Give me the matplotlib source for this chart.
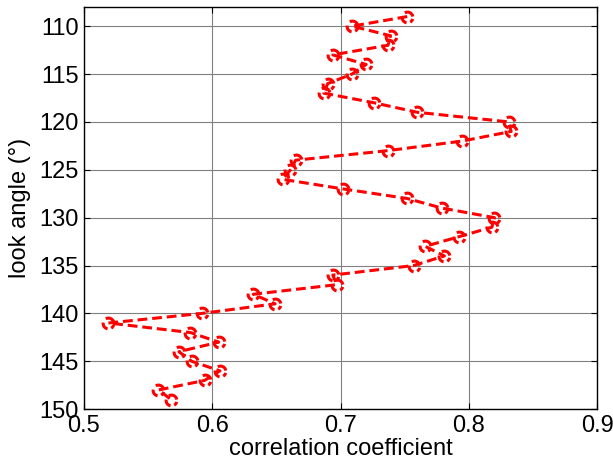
import numpy as np
import matplotlib
matplotlib.use("Agg")
import matplotlib.pyplot as plt
from matplotlib.path import Path

# data
look_angle = list(range(109, 150))
corr = [0.752, 0.709, 0.739, 0.737, 0.694, 0.720, 0.709, 0.690, 0.687,
        0.726, 0.760, 0.831, 0.833, 0.795, 0.737, 0.665, 0.661, 0.655,
        0.702, 0.752, 0.779, 0.820, 0.818, 0.792, 0.766, 0.781, 0.757,
        0.694, 0.697, 0.632, 0.649, 0.592, 0.519, 0.583, 0.605, 0.574,
        0.584, 0.606, 0.594, 0.558, 0.568]
xticks = [0.5, 0.6, 0.7, 0.8, 0.9]
yticks = [110, 115, 120, 125, 130, 135, 140, 145, 150]

plt.rcParams['font.family'] = ['Liberation Sans', 'DejaVu Sans']

# dashed-circle marker (as drawn by MATLAB with '--o')
arcs = [Path.arc(10, 120), Path.arc(170, 260), Path.arc(300, 345)]
dash_circle = Path.make_compound_path(*arcs)

fig = plt.figure(figsize=(6.13, 4.66), dpi=100)
ax = fig.add_axes([0.137, 0.122, 0.837, 0.863])

ax.plot(corr, look_angle, color='red', linestyle='--', linewidth=2.2,
        dashes=(3.2, 1.6), marker=dash_circle, markersize=8,
        markerfacecolor='none', markeredgecolor='red', markeredgewidth=2.2)

ax.set_xlim(0.5, 0.9)
ax.set_ylim(150, 108)
ax.set_xticks(xticks)
ax.set_xticklabels([f"{t:g}" for t in xticks])
ax.set_yticks(yticks)
ax.set_yticklabels([str(t) for t in yticks])

ax.grid(True, color='0.5', linewidth=0.8, linestyle='-')
ax.set_axisbelow(True)
ax.tick_params(direction='in', top=True, right=True, length=4, width=0.8,
               labelsize=17, pad=4)
for s in ax.spines.values():
    s.set_linewidth(1.0)
    s.set_color('black')

ax.set_xlabel('correlation coefficient', fontsize=17, labelpad=1)
ax.set_ylabel('look angle (°)', fontsize=17, labelpad=6)

fig.savefig('out.png', dpi=100)
